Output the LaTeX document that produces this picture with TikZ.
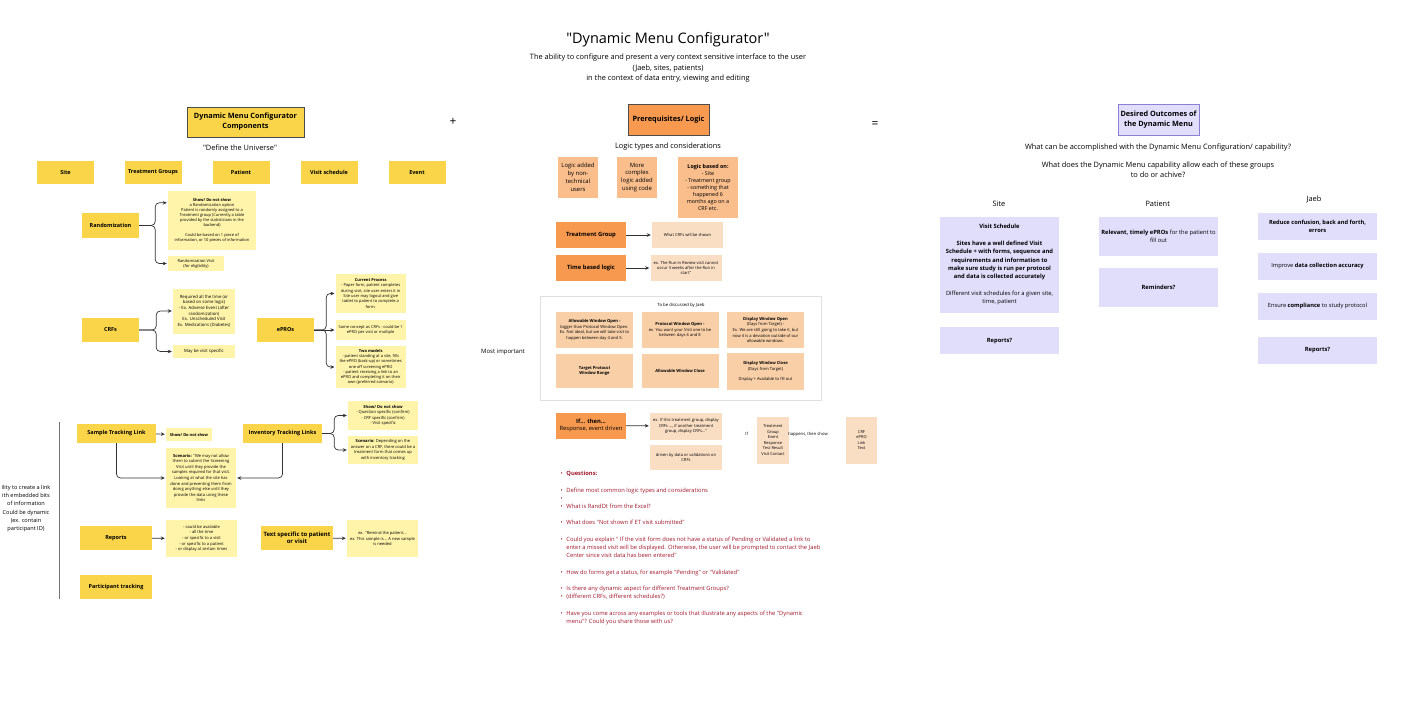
\documentclass[tikz,border=0pt]{standalone}
\usepackage{fontspec}
\setmainfont{Open Sans}[Ligatures=TeXOff]
\usetikzlibrary{arrows.meta,positioning}
\definecolor{sunyellow}{RGB}{250,213,74}
\definecolor{paleyellow}{RGB}{255,244,170}
\definecolor{deeporange}{RGB}{247,153,79}
\definecolor{softorange}{RGB}{250,190,140}
\definecolor{peach}{RGB}{248,207,167}
\definecolor{palepeach}{RGB}{250,222,196}
\definecolor{lavender}{RGB}{225,222,252}
\definecolor{lavline}{RGB}{140,128,214}
\definecolor{qred}{RGB}{160,24,44}
\newcommand{\fsz}[2]{\fontsize{#1}{#2}\selectfont}

\begin{document}
\begin{tikzpicture}[x=1pt,y=-1pt,
    head/.style={draw=black!70,line width=0.8pt,align=center,
      font=\bfseries\fsz{7.3}{10},minimum width=81pt,minimum height=31pt,inner sep=1pt},
    comp/.style={fill=sunyellow,align=center,font=\bfseries\fsz{5.5}{7},
      minimum width=57pt,minimum height=23pt,inner sep=1pt},
    note/.style={fill=paleyellow,align=center,font=\fsz{4.1}{5.6},inner sep=1pt},
    pre/.style={fill=deeporange,align=center,font=\bfseries\fsz{5.8}{7.2},
      minimum width=70pt,minimum height=26pt,inner sep=1pt},
    logic/.style={fill=softorange,align=center,font=\fsz{5.9}{7.9},inner sep=1pt},
    win/.style={fill=peach,align=center,font=\fsz{4.1}{5.6},
      minimum width=77pt,minimum height=36.5pt,inner sep=1pt},
    pn/.style={fill=palepeach,align=center,font=\fsz{4.1}{5.4},
      minimum width=71pt,minimum height=26pt,inner sep=1pt},
    lav/.style={fill=lavender,align=center,font=\fsz{5.8}{8.3},
      minimum width=119pt,minimum height=27pt,inner sep=1pt},
    txt/.style={align=center,inner sep=0pt},
    a/.style={-{Stealth[length=4pt,width=3.6pt]},line width=0.7pt,
      black!80,rounded corners=4pt,shorten >=1pt}]
  \path[use as bounding box,fill=white] (0,0) rectangle (1414,707);

  % title
  \node[txt,font=\fsz{14.5}{17}] (title) at (668,40) {"Dynamic Menu Configurator"};
  \node[txt,font=\fsz{7.4}{10.5}] (subtitle) at (668,68.5)
    {The ability to configure and present a very context sensitive interface to the user\\
     (Jaeb, sites, patients)\\in the context of data entry, viewing and editing};

  % components
  \node[head,fill=sunyellow,minimum width=117pt,minimum height=30pt] (comphead) at (245.5,122)
    {Dynamic Menu Configurator\\Components};
  \node[txt,font=\fsz{12}{12}] (plus) at (453,122) {+};
  \node[txt,font=\fsz{7.4}{8}] (universe) at (240,148) {"Define the Universe"};
  \node[comp] (site) at (65.5,172.5) {Site};
  \node[comp] (groups) at (153,172.5) {Treatment Groups};
  \node[comp] (patient) at (241,172.5) {Patient};
  \node[comp] (visits) at (329,172.5) {Visit schedule};
  \node[comp] (event) at (417,172.5) {Event};

  \node[comp,minimum height=25pt] (rand) at (110.5,225.5) {Randomization};
  \node[note,font=\fsz{4}{5},minimum width=88pt,minimum height=59pt] (randshow) at (212,220.5)
    {\textbf{Show/ Do not show}\\a Randomization option\\Patient is randomly assigned to a\\
     Treatment group (Currently a table\\provided by the statisticians in the\\backend)\\[5pt]
     Could be based on 1 piece of\\information, or 10 pieces of information};
  \node[note,font=\fsz{4}{5},minimum width=56pt,minimum height=15pt] (randvisit) at (196,263.5)
    {Randomization Visit\\(for eligibility)};
  \draw[a] (rand.east) -- ++(16,0) |- ([yshift=-12pt]randshow.north west);
  \draw[a] (rand.east) -- ++(16,0) |- (randvisit.west);

  \node[comp,minimum height=24pt] (crfs) at (110.5,330) {CRFs};
  \node[note,font=\fsz{4.3}{5.6},minimum width=62pt,minimum height=45pt] (crfreq) at (204,311)
    {Required all the time (or\\based on some logic)\\- Ex. Adverse Event (after\\randomization)\\
     Ex. Unscheduled Visit\\Ex. Medications (Diabetes)};
  \node[note,font=\fsz{4.3}{5},minimum width=62pt,minimum height=13pt] (crfvisit) at (204,351.5)
    {May be visit specific};
  \draw[a] (crfs.east) -- ++(17,0) |- (crfreq.west);
  \draw[a] (crfs.east) -- ++(17,0) |- (crfvisit.west);

  \node[comp,minimum height=24pt] (epros) at (285.5,330) {ePROs};
  \node[note,font=\fsz{4}{5.3},minimum width=70pt,minimum height=39pt] (eprocur) at (370.7,293.5)
    {\textbf{Current Process}\\- Paper form, patient completes\\during visit, site user enters it in\\
     Site user may logout and give\\tablet to patient to complete a\\form.};
  \node[note,font=\fsz{4}{5.3},minimum width=70pt,minimum height=20pt] (eprosame) at (370.7,330)
    {Same concept as CRFs - could be 1\\ePRO per visit or multiple};
  \node[note,font=\fsz{4}{5.3},minimum width=70pt,minimum height=42pt] (eprotwo) at (370.7,367)
    {\textbf{Two models}\\- patient standing at a site, fills\\the ePRO (back-up) or sometimes\\
     one off screening ePRO\\- patient receiving a link to an\\ePRO and completing it on their\\
     own (preferred scenario)};
  \draw[a] (epros.east) -- ++(12,0) |- (eprocur.west);
  \draw[a] (epros.east) -- (eprosame.west);
  \draw[a] (epros.east) -- ++(12,0) |- (eprotwo.west);

  % links, reports
  \draw[black!55,line width=0.8pt] (59.5,422) -- (59.5,599);
  \node[txt,font=\fsz{5.6}{8.2}] (linktext) at (26,508.5)
    {ility to create a link\\ith embedded bits\\of information\\Could be dynamic\\(ex. contain\\participant ID)};
  \node[comp,minimum width=79pt,minimum height=19pt] (sample) at (116.5,433.5) {Sample Tracking Link};
  \node[note,font=\bfseries\fsz{4}{4.5},minimum width=46pt,minimum height=13pt] (sampleshow) at (189,434.5)
    {Show/ Do not show};
  \draw[a] (sample) -- (sampleshow);
  \node[comp,minimum width=79pt,minimum height=19pt] (inventory) at (282.5,433.5) {Inventory Tracking Links};
  \node[note,minimum width=70pt,minimum height=29pt] (invshow) at (383,415.5)
    {\textbf{Show/ Do not show}\\- Question specific (confirm)\\- CRF specific (confirm)\\- Visit specific};
  \node[note,minimum width=70pt,minimum height=28pt] (invscen) at (383,450)
    {\textbf{Scenario:} Depending on the\\answer on a CRF, there could be a\\treatment form that comes up\\with inventory tracking};
  \draw[a] (inventory.east) -- ++(12,0) |- (invshow.west);
  \draw[a] (inventory.east) -- ++(12,0) |- (invscen.west);
  \node[note,minimum width=70pt,minimum height=60pt] (scenario) at (201,478)
    {\textbf{Scenario:} "We may not allow\\them to submit the Screening\\Visit until they provide the\\
     samples required for that visit.\\Looking at what the site has\\done and preventing them from\\
     doing anything else until they\\provide the data using these\\links};
  \draw[a] (sample.south) |- (scenario.west);
  \draw[a] (inventory.south) |- (scenario.east);

  \node[comp,minimum width=72pt,minimum height=24pt] (reports) at (116,538) {Reports};
  \node[note,minimum width=71pt,minimum height=37pt] (reportsnote) at (201.5,538.5)
    {- could be available\\- all the time\\- or specific to a visit\\- or specific to a patient\\- or display at certain times};
  \draw[a] (reports) -- (reportsnote);
  \node[comp,font=\bfseries\fsz{5.9}{7.4},minimum width=72pt,minimum height=24pt] (textspec) at (297,538)
    {Text specific to patient\\or visit};
  \node[note,minimum width=71pt,minimum height=37pt] (textnote) at (382.5,538.5)
    {ex. "Remind the patient...\\ex. This sample is... A new sample\\is needed};
  \draw[a] (textspec) -- (textnote);
  \node[comp,minimum width=72pt,minimum height=24pt] (tracking) at (116,587) {Participant tracking};

  % prerequisites / logic
  \node[head,fill=deeporange] (prereq) at (668.5,119.5) {Prerequisites/ Logic};
  \node[txt,font=\fsz{7.4}{8}] (logictypes) at (668,147) {Logic types and considerations};
  \node[logic,minimum width=40pt,minimum height=41pt] (nontech) at (578,177.5)
    {Logic added\\by non-\\technical\\users};
  \node[logic,minimum width=40pt,minimum height=41pt] (coded) at (637,177.5)
    {More\\complex\\logic added\\using code};
  \node[logic,font=\fsz{5.4}{7.1},minimum width=60pt,minimum height=61pt] (basedon) at (708,187.5)
    {\textbf{Logic based on:}\\- Site\\- Treatment group\\- something that\\happened 6\\months ago on a\\CRF etc.};
  \node[pre] (treatgroup) at (591,235) {Treatment Group};
  \node[pn] (whatcrfs) at (687.5,235) {What CRFs will be shown};
  \draw[a] (treatgroup) -- (whatcrfs);
  \node[pre] (timelogic) at (591,268) {Time based logic};
  \node[pn] (runin) at (686,268)
    {ex. The Run-in Review visit cannot\\occur 3 weeks after the Run in\\start"};
  \draw[a] (timelogic) -- (runin);

  \node[draw=black!12,fill=white,line width=0.6pt,minimum width=281pt,minimum height=104pt] (discuss) at (680.5,348) {};
  \node[txt,font=\fsz{4.3}{5}] (discusslbl) at (681,305.7) {To be discussed by Jaeb};
  \node[txt,font=\fsz{6}{7}] (important) at (503,351.7) {Most important};
  \node[win] (allowopen) at (594.5,330)
    {\textbf{Allowable Window Open -}\\bigger than Protocol Window Open.\\Ex. Not ideal, but we will take visit to\\happen between day 4 and 5.};
  \node[win] (protopen) at (680,330)
    {\textbf{Protocol Window Open -}\\ex. You want your Visit one to be\\between days 6 and 8};
  \node[win] (dispopen) at (765.5,330)
    {\textbf{Display Window Open}\\(Days from Target) -\\Ex. We are still going to take it, but\\now it is a deviation outside of our\\allowable windows.};
  \node[win,minimum height=34pt] (targetrange) at (594.5,371) {\textbf{Target Protocol}\\\textbf{Window Range}};
  \node[win,minimum height=34pt] (allowclose) at (680,371) {\textbf{Allowable Window Close}};
  \node[win,minimum height=37pt] (dispclose) at (765.5,371.5)
    {\textbf{Display Window Close}\\(Days from Target)\\[4pt]Display + Available to fill out};

  \node[pre,font=\fsz{5.8}{7.2}] (ifthen) at (591,425.5) {\textbf{If... then...}\\Response, event driven};
  \node[pn,minimum width=72pt,minimum height=27pt] (ifnote) at (686,426)
    {ex. If this treatment group, display\\CRFs ..., if another treatment\\group, display CRFs..."};
  \draw[a] (ifthen) -- (ifnote);
  \node[pn,minimum width=72pt,minimum height=25pt] (drivennote) at (686,457.5)
    {driven by data or validations on\\CRFs};
  \node[txt,font=\fsz{4.2}{5}] (iflbl) at (746.7,434) {If};
  \node[pn,font=\fsz{4}{5.6},minimum width=32pt,minimum height=47pt] (events) at (773,440)
    {Treatment\\Group\\Event\\Response\\Test Result\\Visit Contact};
  \node[txt,font=\fsz{4.2}{5}] (happens) at (808,434) {happens, then show};
  \node[pn,font=\fsz{4}{5.6},minimum width=31pt,minimum height=47pt] (shows) at (861.5,440)
    {CRF\\ePRO\\Link\\Text};

  \node[anchor=north west,inner sep=0pt,text=qred,font=\fsz{5.8}{8.2}] (questions) at (560.5,469.8)
    {\begin{tabular}{@{}l@{\hspace{3.5pt}}l@{}}
      • & \textbf{Questions:}\\
        & \\
      • & Define most common logic types and considerations\\
      • & \\
      • & What is RandDt from the Excel?\\
        & \\
      • & What does "Not shown if ET visit submitted"\\
        & \\
      • & Could you explain " If the visit form does not have a status of Pending or Validated a link to\\
        & enter a missed visit will be displayed. Otherwise, the user will be prompted to contact the Jaeb\\
        & Center since visit data has been entered"\\
        & \\
      • & How do forms get a status, for example "Pending" or "Validated"\\
        & \\
      • & Is there any dynamic aspect for different Treatment Groups?\\
      • & (different CRFs, different schedules?)\\
        & \\
      • & Have you come across any examples or tools that illustrate any aspects of the "Dynamic\\
        & menu"? Could you share those with us?
    \end{tabular}};

  % outcomes
  \node[txt,font=\fsz{12}{12}] (equals) at (875,125) {=};
  \node[head,fill=lavender,draw=lavline] (outcomes) at (1158.5,119.5) {Desired Outcomes of\\the Dynamic Menu};
  \node[txt,font=\fsz{7.4}{10}] (accomplish) at (1158,147.3)
    {What can be accomplished with the Dynamic Menu Configuration/ capability?};
  \node[txt,font=\fsz{7.4}{10}] (allow) at (1158,170)
    {What does the Dynamic Menu capability allow each of these groups\\to do or achive?};
  \node[txt,font=\fsz{7.4}{8}] (sitelbl) at (999,204.3) {Site};
  \node[txt,font=\fsz{7.4}{8}] (patientlbl) at (1157.7,204.3) {Patient};
  \node[txt,font=\fsz{7.4}{8}] (jaeblbl) at (1314,199.7) {Jaeb};

  \node[lav,minimum height=96pt] (visitsched) at (999.5,264.7)
    {\textbf{Visit Schedule}\\[8.3pt]\textbf{Sites have a well defined Visit}\\
     \textbf{Schedule + with forms, sequence and}\\\textbf{requirements and information to}\\
     \textbf{make sure study is run per protocol}\\\textbf{and data is collected accurately}\\[8.3pt]
     Different visit schedules for a given site,\\time, patient};
  \node[lav,font=\bfseries\fsz{5.8}{8.3},below=14.3pt of visitsched] (sitereports) {Reports?};
  \node[lav,minimum height=39pt] (relevant) at (1158.5,236.3)
    {\textbf{Relevant, timely ePROs} for the patient to\\fill out};
  \node[lav,font=\bfseries\fsz{5.8}{8.3},minimum height=39pt,below=12pt of relevant] (reminders) {Reminders?};
  \node[lav,font=\bfseries\fsz{5.7}{8.3}] (confusion) at (1317.5,226)
    {Reduce confusion, back and forth,\\errors};
  \node[lav,font=\fsz{5.7}{8.3},below=12.7pt of confusion] (accuracy) {Improve \textbf{data collection accuracy}};
  \node[lav,font=\fsz{5.7}{8.3},below=12.7pt of accuracy] (compliance) {Ensure \textbf{compliance} to study protocol};
  \node[lav,font=\bfseries\fsz{5.8}{8.3},below=16.7pt of compliance] (jaebreports) {Reports?};
\end{tikzpicture}
\end{document}
